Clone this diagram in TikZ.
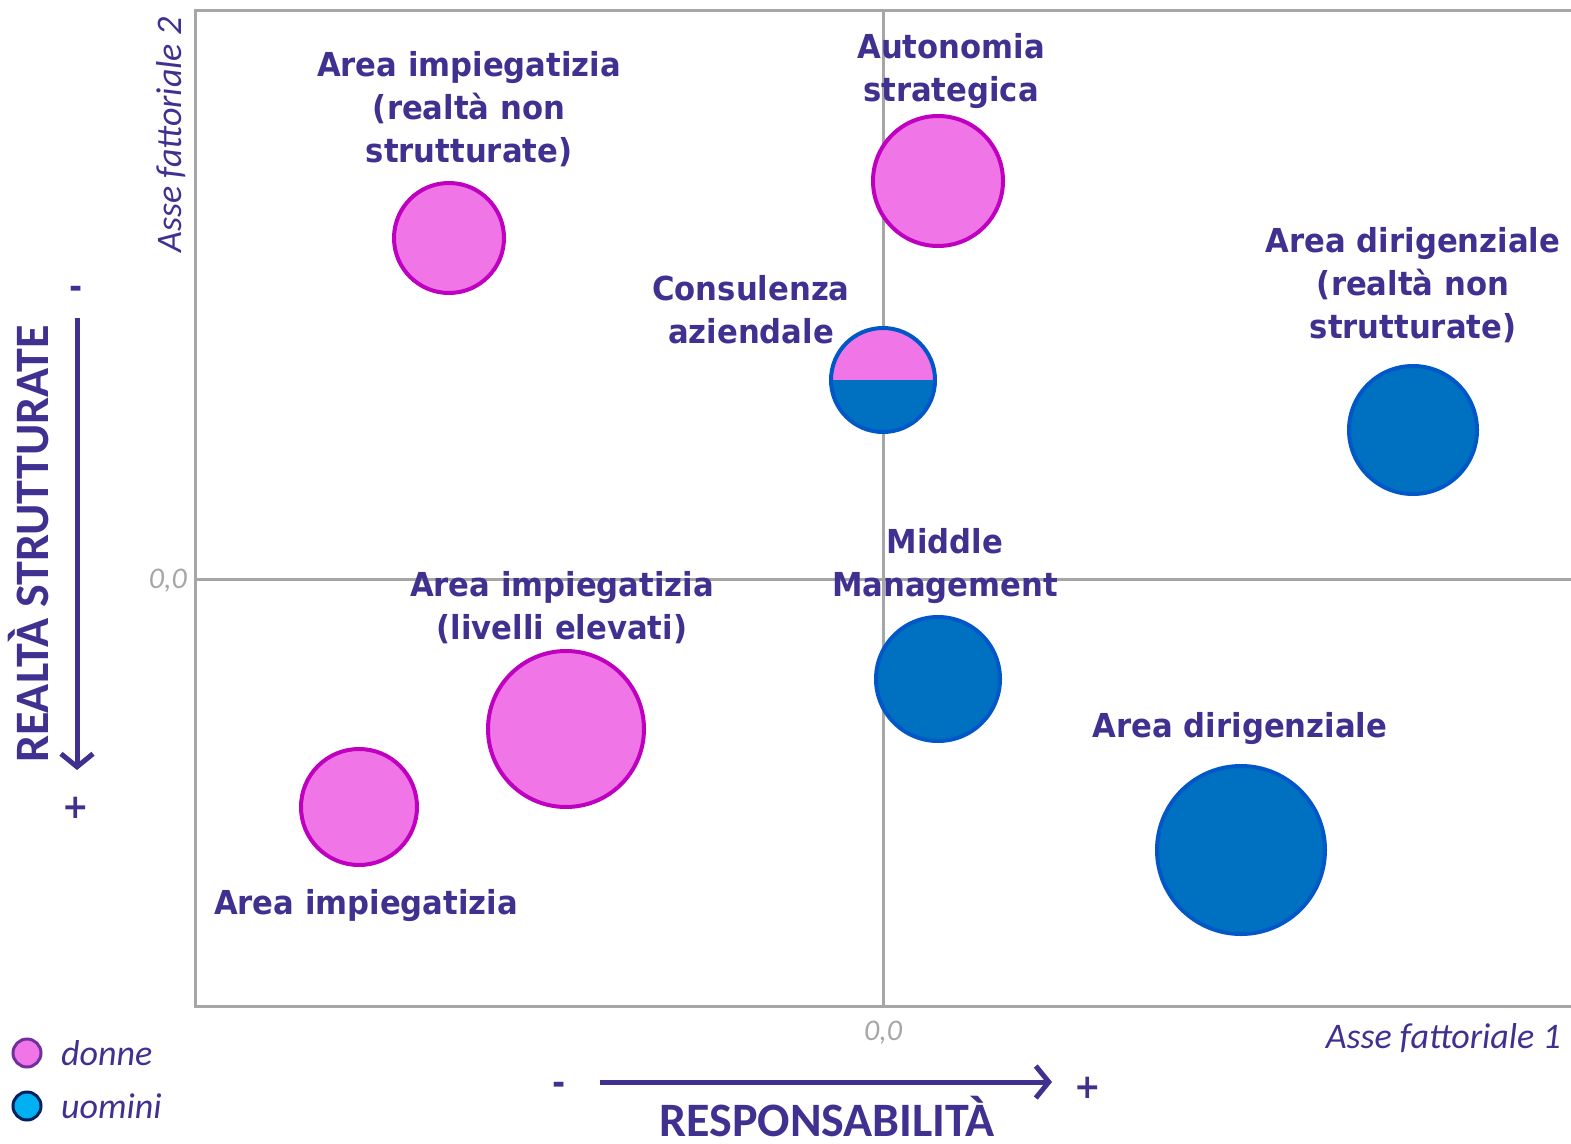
\documentclass[tikz,border=0pt]{standalone}
\usepackage{fontspec}
\usetikzlibrary{arrows.meta}
\newfontfamily\lblfont{DejaVu Sans}[FakeStretch=0.93]
\newfontfamily\axfont{Carlito}
\definecolor{ink}{RGB}{64,49,145}
\definecolor{pinkfill}{RGB}{240,117,230}
\definecolor{pinkline}{RGB}{192,0,192}
\definecolor{bluefill}{RGB}{0,112,192}
\definecolor{blueline}{RGB}{0,88,200}
\definecolor{axgray}{RGB}{166,166,166}
\tikzset{
  lbl/.style={text=ink, align=center, inner sep=0pt,
    font=\lblfont\bfseries\fontsize{33}{43}\selectfont},
  axlbl/.style={text=ink, inner sep=0pt, font=\axfont\itshape\fontsize{36}{40}\selectfont},
  zero/.style={text=axgray, inner sep=0pt, font=\axfont\itshape\fontsize{30}{34}\selectfont},
  bigcap/.style={text=ink, inner sep=0pt, font=\axfont\bfseries\fontsize{48}{50}\selectfont},
  sign/.style={text=ink, inner sep=0pt, font=\lblfont\bfseries\fontsize{34}{40}\selectfont},
  donna/.style={circle, inner sep=0pt, draw=pinkline, fill=pinkfill, line width=4pt},
  uomo/.style={circle, inner sep=0pt, draw=blueline, fill=bluefill, line width=4pt},
  dir/.style={draw=ink, line width=5pt, -{Straight Barb[length=13pt,width=32pt]}}
}
\begin{document}
\begin{tikzpicture}[x=1pt,y=-1pt]
  \useasboundingbox (0,0) rectangle (1571,1143);
  % frame and axes
  \begin{scope}[axgray, line width=3pt]
    \draw (1571,10) -- (195,10) -- (195,1006) -- (1571,1006);
    \draw (883,10) -- (883,1006);
    \draw (195,579) -- (1571,579);
  \end{scope}
  \node[zero, anchor=east] (z2) at (187,581) {0,0};
  \node[zero] (z1) at (883,1033) {0,0};
  \node[axlbl, rotate=90, anchor=base] (ax2) at (181,135) {Asse fattoriale 2};
  \node[axlbl, anchor=base east] (ax1) at (1561,1048) {Asse fattoriale 1};

  % bubbles
  \node[donna, minimum size=110pt] (1) at (449,238) {};
  \node[donna, minimum size=130pt] (2) at (938,181) {};
  \node[circle, inner sep=0pt, draw=blueline, line width=4pt, minimum size=104pt,
    path picture={
      \fill[pinkfill] (path picture bounding box.north west) rectangle (path picture bounding box.east);
      \fill[bluefill] (path picture bounding box.west) rectangle (path picture bounding box.south east);
    }] (3) at (883,380) {};
  \node[uomo, minimum size=128pt] (4) at (1413,430) {};
  \node[uomo, minimum size=124pt] (5) at (938,679) {};
  \node[donna, minimum size=156pt] (6) at (566,729) {};
  \node[donna, minimum size=116pt] (7) at (359,807) {};
  \node[uomo, minimum size=168pt] (8) at (1241,850) {};

  % labels
  \node[lbl] (l1) at (469,109) {Area impiegatizia\\(realtà non\\strutturate)};
  \node[lbl] (l2) at (951,71) {Autonomia\\strategica};
  \node[lbl] (l3) at (751,310) {Consulenza\\aziendale};
  \node[lbl] (l4) at (1413,285) {Area dirigenziale\\(realtà non\\strutturate)};
  \node[lbl] (l5) at (945,566) {Middle\\Management};
  \node[lbl] (l6) at (562,608) {Area impiegatizia\\(livelli elevati)};
  \node[lbl] (l7) at (366,906) {Area impiegatizia};
  \node[lbl] (l8) at (1240,729) {Area dirigenziale};

  % directions
  \node[sign] (vminus) at (76,292) {-};
  \node[sign] (vplus) at (76,808) {+};
  \coordinate (vtop) at (77,318);
  \coordinate (vbot) at (77,770);
  \draw[dir] (vtop) -- (vbot);
  \node[bigcap, rotate=90, anchor=base] (realta) at (48,544) {REALTÀ STRUTTURATE};

  \node[sign] (hminus) at (559,1088) {-};
  \node[sign] (hplus) at (1088,1088) {+};
  \coordinate (hleft) at (600,1082);
  \coordinate (hright) at (1052,1082);
  \draw[dir] (hleft) -- (hright);
  \node[bigcap, anchor=base, text depth=0pt] (resp) at (827,1136) {RESPONSABILITÀ};

  % legend
  \node[circle, inner sep=0pt, minimum size=28pt, line width=3pt, draw={rgb,255:red,112;green,48;blue,160}, fill=pinkfill] (ld) at (27,1053) {};
  \node[circle, inner sep=0pt, minimum size=28pt, line width=3pt, draw={rgb,255:red,0;green,32;blue,96}, fill={rgb,255:red,0;green,176;blue,240}] (lu) at (27,1106) {};
  \node[axlbl, anchor=west] (tdonne) at (61,1053) {donne};
  \node[axlbl, anchor=west] (tuomini) at (61,1106) {uomini};
\end{tikzpicture}
\end{document}
